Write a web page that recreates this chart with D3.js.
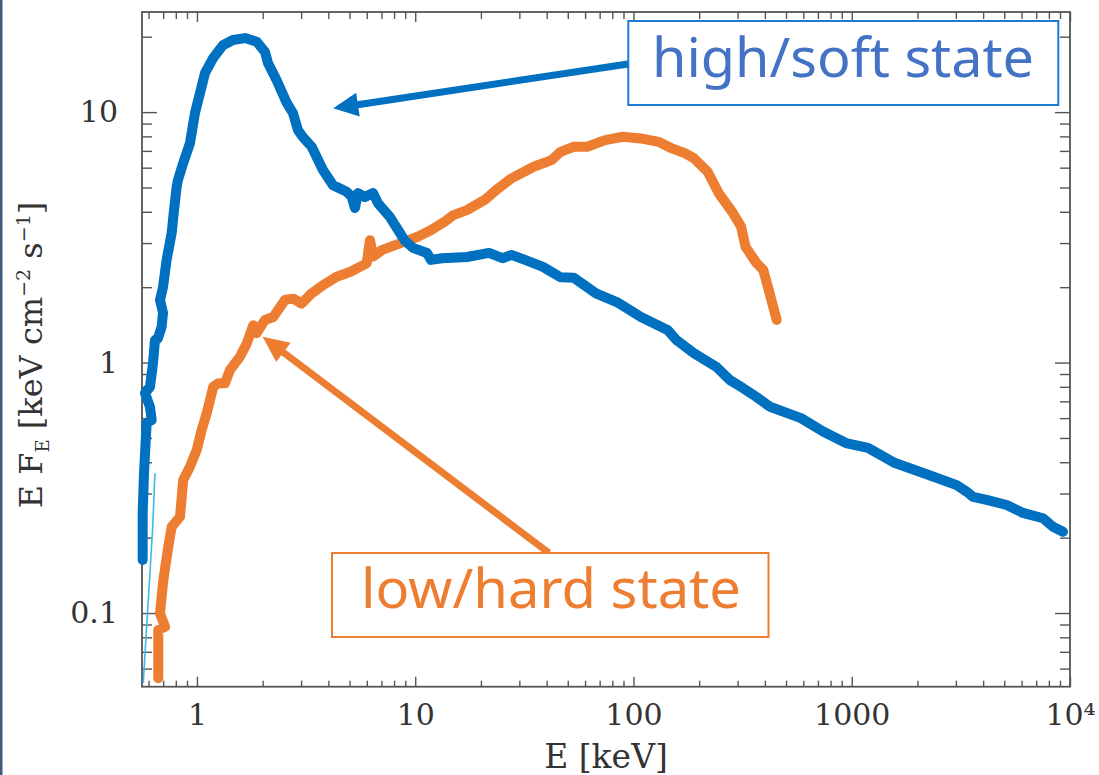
<!DOCTYPE html>
<html>
<head>
<meta charset="utf-8">
<script src="https://cdn.jsdelivr.net/npm/d3@7"></script>
<style>
  html, body { margin: 0; padding: 0; background: #ffffff; }
  svg { display: block; }
</style>
</head>
<body>
<svg id="chart" width="1099" height="775"></svg>
<script>
// ---------------- DATA ----------------
// high/soft state spectrum: energy (keV) and E F_E (keV cm^-2 s^-1)
const highSoftE = [0.564,0.564,0.572,0.588,0.620,0.609,0.578,0.609,0.629,0.642,0.663,0.689,0.699,0.677,0.699,0.726,0.766,0.779,0.807,0.818,0.865,0.929,0.979,1.032,1.088,1.184,1.315,1.462,1.660,1.877,2.049,2.115,2.318,2.576,2.754,2.902,3.059,3.354,3.778,4.199,4.853,5.115,5.296,5.467,5.886,6.404,6.750,7.661,8.513,8.927,9.766,11.32,11.81,13.27,17.27,21.77,25.11,27.61,31.84,38.48,46.30,53.39,67.33,85.36,108.2,143.2,157.3,189.3,240.1,276.8,317.5,366.9,422.1,585.5,742.5,941.3,1187,1579,2189,3027,3363,3594,4153,5129,6090,7520,8357,9289];
const highSoftF = [0.163,0.251,0.362,0.573,0.590,0.665,0.756,0.799,0.995,1.23,1.25,1.39,1.58,1.78,2.00,2.57,3.29,3.81,5.02,5.35,6.26,7.52,9.91,11.9,14.3,16.4,18.5,19.4,19.75,19.1,17.4,15.7,13.4,10.9,9.91,8.48,7.95,7.27,5.87,5.11,4.81,4.59,4.14,4.75,4.58,4.75,4.33,3.81,3.29,3.08,2.87,2.74,2.57,2.61,2.64,2.74,2.61,2.69,2.57,2.41,2.19,2.18,1.89,1.73,1.52,1.35,1.23,1.09,0.960,0.851,0.791,0.728,0.666,0.600,0.529,0.477,0.456,0.397,0.359,0.324,0.305,0.291,0.283,0.270,0.251,0.239,0.221,0.211];

// low/hard state spectrum
const lowHardE = [0.665,0.665,0.714,0.677,0.701,0.739,0.766,0.836,0.865,0.929,0.997,1.051,1.108,1.188,1.252,1.344,1.416,1.574,1.690,1.811,1.877,2.049,2.237,2.531,2.763,3.017,3.354,3.791,4.366,5.023,5.991,6.204,6.424,7.020,8.513,10.27,11.83,13.63,14.97,17.25,20.81,23.42,27.61,34.88,42.14,46.30,53.33,61.37,74.12,89.42,107.9,130.3,150.1,172.7,189.7,218.6,245.9,283.0,311.2,326.0,366.9,393.3,412.6,432.5,453.0];
const lowHardF = [0.0549,0.0855,0.0882,0.0997,0.135,0.184,0.221,0.242,0.340,0.384,0.447,0.538,0.627,0.801,0.826,0.826,0.933,1.055,1.19,1.41,1.31,1.48,1.52,1.78,1.80,1.72,1.89,2.04,2.20,2.30,2.49,3.08,2.65,2.81,2.99,3.18,3.38,3.65,3.88,4.06,4.46,4.88,5.44,6.05,6.43,6.94,7.27,7.27,7.73,7.97,7.85,7.61,7.16,6.84,6.53,5.78,4.74,4.00,3.49,2.90,2.49,2.34,2.01,1.72,1.48];

// faint underlying model component near the low-energy edge
const faintE = [0.5675,0.6266,0.642];
const faintF = [0.0526,0.2185,0.362];

// axis ticks
const xMajorTicks = [1, 10, 100, 1000, 10000];
const xMajorLabels = ["1", "10", "100", "1000", "10\u2074"];
const xMinorTicks = [0.6,0.7,0.8,0.9,2,3,4,5,6,7,8,9,20,30,40,50,60,70,80,90,200,300,400,500,600,700,800,900,2000,3000,4000,5000,6000,7000,8000,9000];
const yMajorTicks = [0.1, 1, 10];
const yMajorLabels = ["0.1", "1", "10"];
const yMinorTicks = [0.06,0.07,0.08,0.09,0.2,0.3,0.4,0.5,0.6,0.7,0.8,0.9,2,3,4,5,6,7,8,9,20];

// annotation texts and pointed-at spectrum features (E, E F_E)
const annotTexts = ["high/soft state", "low/hard state"];
const annotTargetE = [4.21, 2.0];
const annotTargetF = [10.35, 1.268];

// ---------------- LAYOUT ----------------
const L = 142, R = 1070, T = 12, B = 686.7;
const BLUE = "#0070C0", ORANGE = "#ED7D31";
const svg = d3.select("#chart");

const x = d3.scaleLog().domain([0.56, 10000]).range([L, R]);
const y = d3.scaleLog().domain([0.0508, 25.1]).range([B, T]);

// slide left border strip
svg.append("rect").attr("x", 0).attr("y", 0).attr("width", 2.5).attr("height", 775).attr("fill", "#3E5A7E");

const serif = "'DejaVu Serif', 'Liberation Serif', serif";
const axisColor = "#555";

// ---- axes (inward ticks on all four sides) ----
function styleAxis(g) {
  g.select(".domain").remove();
  g.selectAll("line").attr("stroke", axisColor).attr("stroke-width", 1.4);
  g.selectAll("text").attr("font-family", serif).attr("font-size", 30).attr("fill", "#333");
}
// bottom
svg.append("g").attr("transform", `translate(0,${B})`)
  .call(d3.axisBottom(x).tickValues(xMajorTicks).tickSize(-10).tickPadding(17)
        .tickFormat((d, i) => xMajorLabels[i])).call(styleAxis);
svg.append("g").attr("transform", `translate(0,${B})`)
  .call(d3.axisBottom(x).tickValues(xMinorTicks).tickSize(-6).tickFormat("")).call(styleAxis);
// top
svg.append("g").attr("transform", `translate(0,${T})`)
  .call(d3.axisTop(x).tickValues(xMajorTicks).tickSize(-10).tickFormat("")).call(styleAxis);
svg.append("g").attr("transform", `translate(0,${T})`)
  .call(d3.axisTop(x).tickValues(xMinorTicks).tickSize(-7).tickFormat("")).call(styleAxis);
// left
svg.append("g").attr("transform", `translate(${L},0)`)
  .call(d3.axisLeft(y).tickValues(yMajorTicks).tickSize(-15).tickPadding(24)
        .tickFormat((d, i) => yMajorLabels[i])).call(styleAxis);
svg.append("g").attr("transform", `translate(${L},0)`)
  .call(d3.axisLeft(y).tickValues(yMinorTicks).tickSize(-10).tickFormat("")).call(styleAxis);
// right
svg.append("g").attr("transform", `translate(${R},0)`)
  .call(d3.axisRight(y).tickValues(yMajorTicks).tickSize(-15).tickFormat("")).call(styleAxis);
svg.append("g").attr("transform", `translate(${R},0)`)
  .call(d3.axisRight(y).tickValues(yMinorTicks).tickSize(-10).tickFormat("")).call(styleAxis);

// frame
svg.append("rect").attr("x", L).attr("y", T).attr("width", R - L).attr("height", B - T)
  .attr("fill", "none").attr("stroke", axisColor).attr("stroke-width", 1.8);

// axis titles
svg.append("text").attr("x", 606).attr("y", 768).attr("text-anchor", "middle")
  .attr("font-family", serif).attr("font-size", 33).attr("fill", "#333").text("E [keV]");

const yl = svg.append("text").attr("transform", "translate(42,355) rotate(-90)")
  .attr("text-anchor", "middle").attr("font-family", serif).attr("font-size", 32).attr("fill", "#333");
yl.append("tspan").text("E F");
yl.append("tspan").attr("font-size", 18).attr("dy", 7).text("E");
yl.append("tspan").attr("dy", -7).text(" [keV cm");
yl.append("tspan").attr("font-size", 19).attr("dy", -12).text("\u22122");
yl.append("tspan").attr("dy", 12).text(" s");
yl.append("tspan").attr("font-size", 19).attr("dy", -12).text("\u22121");
yl.append("tspan").attr("dy", 12).text("]");

// ---- spectra ----
const line = d3.line().x(d => x(d[0])).y(d => y(d[1]));
const faint = faintE.map((e, i) => [e, faintF[i]]);
const high = highSoftE.map((e, i) => [e, highSoftF[i]]);
const low = lowHardE.map((e, i) => [e, lowHardF[i]]);

svg.append("path").datum(faint).attr("d", line).attr("fill", "none")
  .attr("stroke", "#3DB9E6").attr("stroke-width", 1.6);
svg.append("path").datum(low).attr("d", line).attr("fill", "none")
  .attr("stroke", ORANGE).attr("stroke-width", 10).attr("stroke-linejoin", "round").attr("stroke-linecap", "round");
svg.append("path").datum(high).attr("d", line).attr("fill", "none")
  .attr("stroke", BLUE).attr("stroke-width", 10).attr("stroke-linejoin", "round").attr("stroke-linecap", "round");

// ---- annotations ----
function arrow(x1, y1, x2, y2, color, w, headLen, headHalf) {
  const a = Math.atan2(y2 - y1, x2 - x1);
  const bx = x2 - headLen * Math.cos(a), by = y2 - headLen * Math.sin(a);
  svg.append("line").attr("x1", x1).attr("y1", y1)
    .attr("x2", bx + 2 * Math.cos(a)).attr("y2", by + 2 * Math.sin(a))
    .attr("stroke", color).attr("stroke-width", w);
  const px = -Math.sin(a), py = Math.cos(a);
  svg.append("polygon").attr("fill", color)
    .attr("points", [[x2, y2], [bx + px * headHalf, by + py * headHalf], [bx - px * headHalf, by - py * headHalf]]
      .map(p => p.join(",")).join(" "));
}

// high/soft
arrow(628, 64, x(annotTargetE[0]), y(annotTargetF[0]), BLUE, 7, 25, 12);
svg.append("rect").attr("x", 628.3).attr("y", 21).attr("width", 430).attr("height", 84)
  .attr("fill", "#ffffff").attr("stroke", "#1C7BD0").attr("stroke-width", 2);
svg.append("text").attr("x", 652).attr("y", 77).attr("font-family", "'Noto Sans', 'Open Sans', sans-serif")
  .attr("font-size", 54).attr("fill", "#4472C4").attr("textLength", 382).attr("lengthAdjust", "spacingAndGlyphs")
  .text(annotTexts[0]);

// low/hard
arrow(549, 553, x(annotTargetE[1]), y(annotTargetF[1]), ORANGE, 7, 26, 12);
svg.append("rect").attr("x", 332).attr("y", 553).attr("width", 436.5).attr("height", 84)
  .attr("fill", "#ffffff").attr("stroke", ORANGE).attr("stroke-width", 2);
svg.append("text").attr("x", 361).attr("y", 607.5).attr("font-family", "'Noto Sans', 'Open Sans', sans-serif")
  .attr("font-size", 54).attr("fill", ORANGE).attr("textLength", 380).attr("lengthAdjust", "spacingAndGlyphs")
  .text(annotTexts[1]);
</script>
</body>
</html>
